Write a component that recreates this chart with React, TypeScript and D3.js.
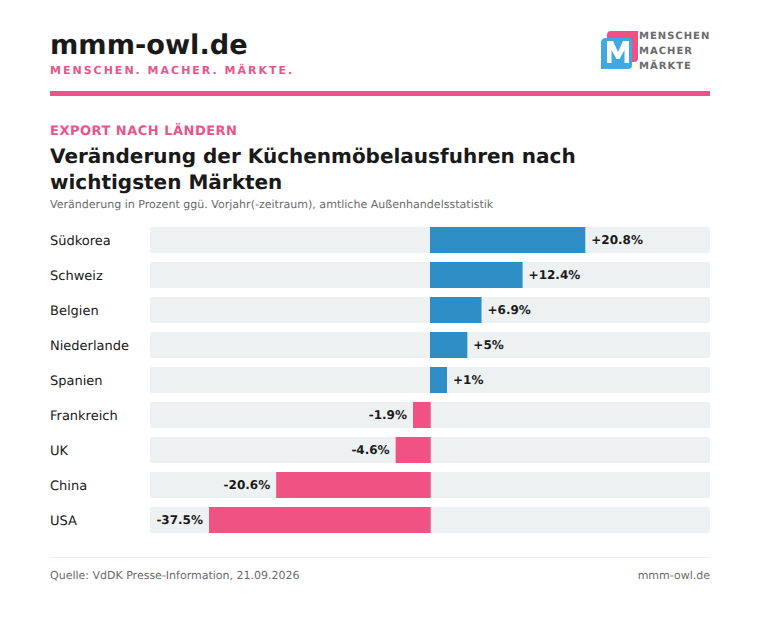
import React from "react";
import * as d3 from "d3";

const countries = ["Südkorea", "Schweiz", "Belgien", "Niederlande", "Spanien", "Frankreich", "UK", "China", "USA"];
const changes = [20.8, 12.4, 6.9, 5, 1, -1.9, -4.6, -20.6, -37.5];
const changeLabels = ["+20.8%", "+12.4%", "+6.9%", "+5%", "+1%", "-1.9%", "-4.6%", "-20.6%", "-37.5%"];

const W = 760;
const H = 632;
const FONT = "'DejaVu Sans', sans-serif";
const PINK = "#f05283";
const TEXT_PINK = "#e85588";
const BLUE = "#2e8fc6";
const DARK = "#1a1a1a";
const GREY = "#6b6b6b";

// bars are clamped in the original, very small and very large values don't scale
const MIN_BAR = 17;
const MAX_BAR = 221;

const App: React.FC = () => {
  const maxAbs = d3.max(changes, (d) => Math.abs(d)) as number;
  const x = d3.scaleLinear().domain([-maxAbs, maxAbs]).range([150, 710]);
  const y = d3.scaleBand().domain(countries).range([222.5, 537.5]).paddingInner(9 / 35).paddingOuter(4.5 / 35);
  const zero = x(0);

  return (
    <svg
      width={W}
      height={H}
      viewBox={`0 0 ${W} ${H}`}
      style={{ position: "absolute", left: 0, top: 0, background: "#fff" }}
      fontFamily={FONT}
      textRendering="geometricPrecision"
    >
      {/* Header */}
      <text x={50} y={54} fontSize={27.2} fontWeight={700} fill={DARK}>mmm-owl.de</text>
      <text x={50} y={73.5} fontSize={11} fontWeight={700} fill={TEXT_PINK} letterSpacing={2}>MENSCHEN. MACHER. MÄRKTE.</text>

      {/* Logo */}
      <path d="M611,31 H638 V58 Q638,62 634,62 H611 Q607,62 607,58 V35 Q607,31 611,31 Z" fill="#ee5285" />
      <path d="M606,38 H628 Q632,38 632,42 V65 Q632,69 628,69 H601 V43 Q601,38 606,38 Z" fill="#3fa9e0" />
      <path d="M607,63 V41 H613 L618,52 L623,41 H629 V63 H624.5 V50 L619.5,59 H616.5 L611.5,50 V63 Z" fill="#fff" />
      <g fontSize={10} fontWeight={700} fill={GREY} letterSpacing={1}>
        <text x={639} y={39}>MENSCHEN</text>
        <text x={639} y={54}>MACHER</text>
        <text x={639} y={69}>MÄRKTE</text>
      </g>

      <rect x={50} y={91} width={660} height={5} fill={TEXT_PINK} />

      {/* Titles */}
      <text x={50} y={135} fontSize={13} fontWeight={700} fill={TEXT_PINK} letterSpacing={0.5}>EXPORT NACH LÄNDERN</text>
      <g fontSize={20} fontWeight={700} fill={DARK}>
        <text x={50} y={163}>Veränderung der Küchenmöbelausfuhren nach</text>
        <text x={50} y={189}>wichtigsten Märkten</text>
      </g>
      <text x={50} y={208} fontSize={11.05} fill={GREY}>Veränderung in Prozent ggü. Vorjahr(-zeitraum), amtliche Außenhandelsstatistik</text>

      {/* Bars */}
      {countries.map((c, i) => {
        const v = changes[i];
        const top = y(c) as number;
        const bw = y.bandwidth();
        const w = Math.min(MAX_BAR, Math.max(MIN_BAR, Math.abs(x(v) - zero)));
        const pos = v >= 0;
        return (
          <g key={c}>
            <text x={50} y={top + bw / 2 + 4.5} fontSize={13} fill={DARK}>{c}</text>
            <rect x={x.range()[0]} y={top} width={x.range()[1] - x.range()[0]} height={bw} rx={2} fill="#eef1f2" />
            <rect x={pos ? zero : zero - w} y={top} width={pos ? w : w + 0.7} height={bw} fill={pos ? BLUE : PINK} />
            <text
              x={pos ? zero + w + 6 : zero - w - 6}
              y={top + bw / 2 + 4.2}
              textAnchor={pos ? "start" : "end"}
              fontSize={12}
              fontWeight={700}
              fill={DARK}
            >
              {changeLabels[i]}
            </text>
          </g>
        );
      })}

      {/* Footer */}
      <line x1={50} x2={710} y1={557.5} y2={557.5} stroke="#eeeeee" />
      <text x={50} y={579} fontSize={11} fill={GREY}>Quelle: VdDK Presse-Information, 21.09.2026</text>
      <text x={710} y={579} fontSize={11} fill={GREY} textAnchor="end">mmm-owl.de</text>
    </svg>
  );
};

export default App;
